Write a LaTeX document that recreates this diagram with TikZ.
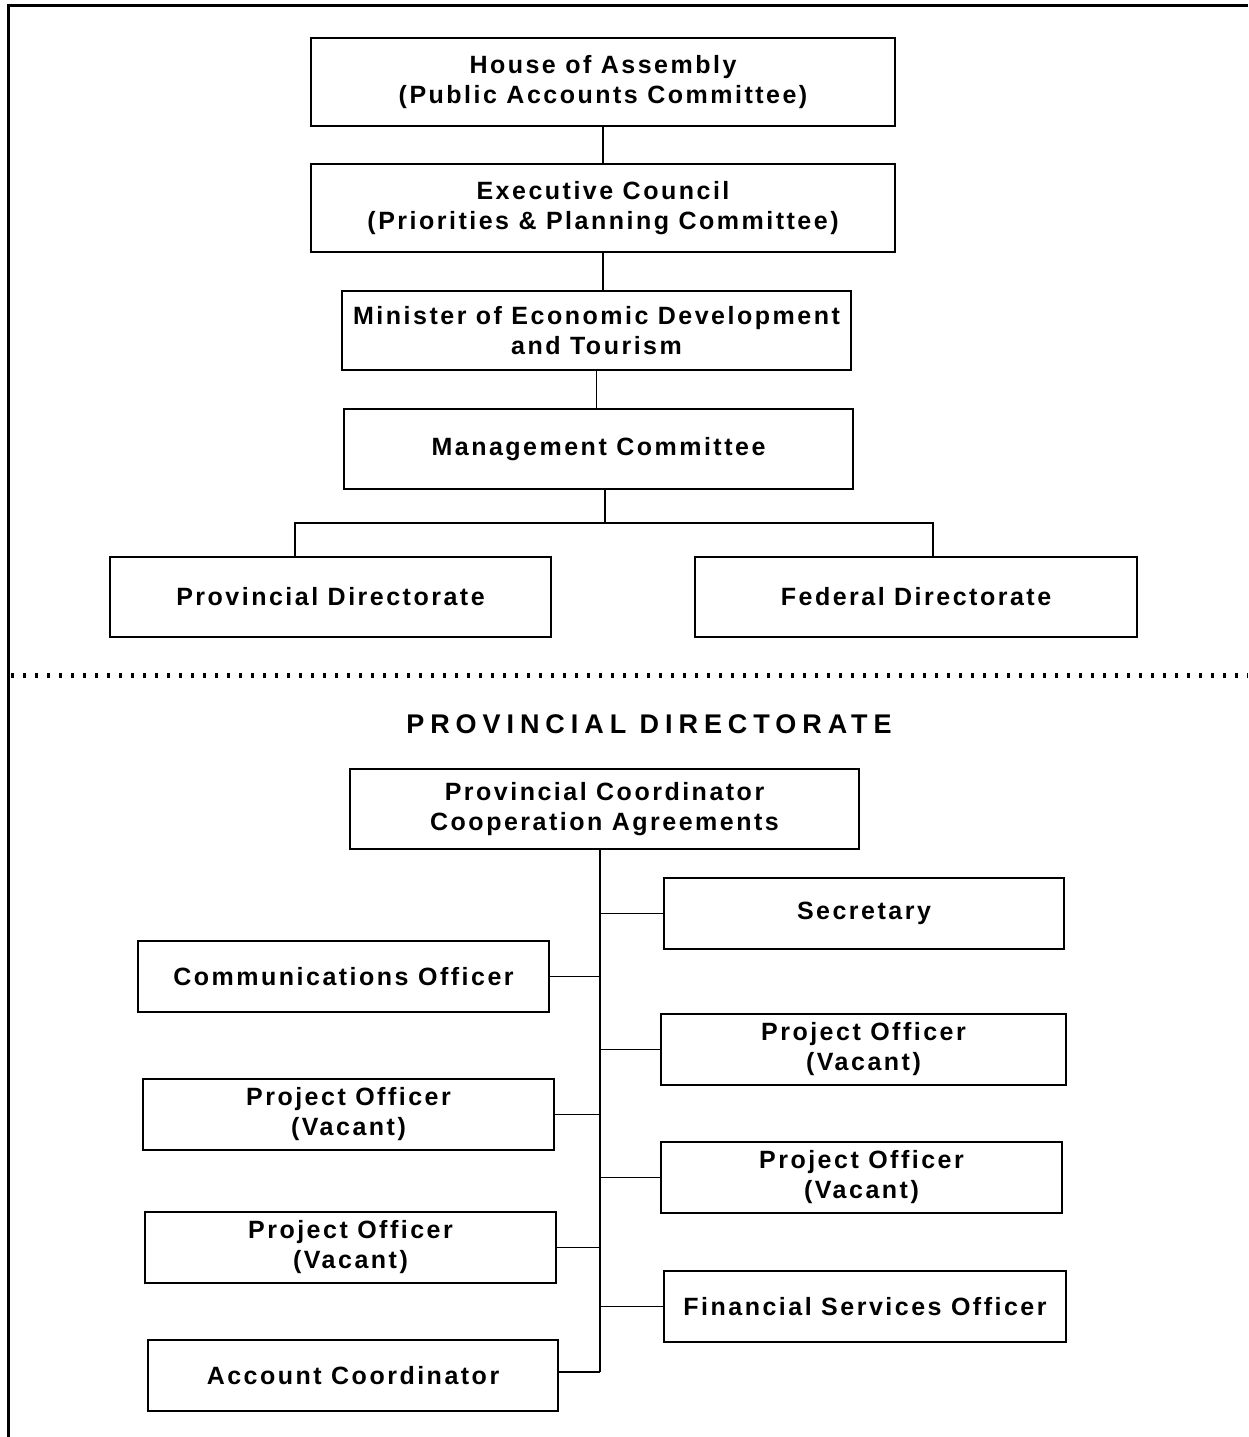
\documentclass[tikz,border=0pt]{standalone}
\usepackage{fontspec}
\setmainfont{Liberation Sans}[LetterSpace=10]
\usepackage{tikz}
\usetikzlibrary{calc}

\begin{document}
\begin{tikzpicture}[x=1pt, y=-1pt, line width=1.6pt,
    font=\fontsize{25}{30}\selectfont\bfseries,
    unitbox/.style={draw, inner sep=0pt, align=center},
    staffbox/.style={unitbox, minimum height=71pt}]
  \useasboundingbox (0,0) rectangle (1248,1437);

  % Frame
  \draw[line width=3pt] (1248,5.5) -- (8.5,5.5) -- (8.5,1437);

  \node[unitbox, minimum width=584pt, minimum height=88pt] (house) at (603,82)
        {House of Assembly\\(Public Accounts Committee)};
  \node[unitbox, minimum width=584pt, minimum height=88pt] (exec) at (603,208)
        {Executive Council\\(Priorities \& Planning Committee)};
  \node[unitbox, minimum width=509pt, minimum height=79pt] (minister) at (596.5,330.5)
        {Minister of Economic Development\\and Tourism};
  \node[unitbox, minimum width=509pt, minimum height=80pt] (mgmt) at (598.5,449)
        {Management Committee};
  \node[unitbox, minimum width=441pt, minimum height=80pt] (provdir) at (330.5,597)
        {Provincial Directorate};
  \node[unitbox, minimum width=442pt, minimum height=80pt] (feddir) at (916,597)
        {Federal Directorate};

  \draw (house.south) -- (house.south |- exec.north);
  \draw (exec.south) -- (exec.south |- minister.north);
  \draw (minister.south) -- (minister.south |- mgmt.north);

  \coordinate (split) at (605,523);
  \coordinate (lft) at (295,523);
  \coordinate (rgt) at (933,523);
  \draw (split |- mgmt.south) -- (split);
  \draw (lft |- provdir.north) -- (lft) -- (rgt) -- (rgt |- feddir.north);

  % Section divider
  \draw[line width=5pt, dash pattern=on 3pt off 9pt] (11,675) -- (1248,675);

  \node[font=\fontsize{27}{30}\selectfont\bfseries\addfontfeature{LetterSpace=22}]
        (title) at (649,724) {PROVINCIAL DIRECTORATE};

  \node[unitbox, minimum width=509pt, minimum height=80pt] (coord) at (604.5,809)
        {Provincial Coordinator\\Cooperation Agreements};

  \node[staffbox, minimum width=400pt] (sec)  at (864,913.5)   {Secretary};
  \node[staffbox, minimum width=411pt] (comm) at (343.5,976.5) {Communications Officer};
  \node[staffbox, minimum width=405pt] (poa)  at (863.5,1049.5) {Project Officer\\(Vacant)};
  \node[staffbox, minimum width=411pt] (pob)  at (348.5,1114.5) {Project Officer\\(Vacant)};
  \node[staffbox, minimum width=401pt] (poc)  at (861.5,1177.5) {Project Officer\\(Vacant)};
  \node[staffbox, minimum width=411pt] (pod)  at (350.5,1247.5) {Project Officer\\(Vacant)};
  \node[staffbox, minimum width=402pt] (fin)  at (865,1306.5)  {Financial Services Officer};
  \node[staffbox, minimum width=410pt] (acc)  at (353,1375.5)  {Account Coordinator};

  \coordinate (trunk) at (600,1372);
  \draw (trunk |- coord.south) -- (trunk);
  \foreach \s in {sec, poa, poc, fin}
    \draw (\s.west) -- (\s.west -| trunk);
  \foreach \s in {comm, pob, pod}
    \draw (\s.east) -- (\s.east -| trunk);
  \draw (acc.east |- trunk) -- (trunk);
\end{tikzpicture}
\end{document}
